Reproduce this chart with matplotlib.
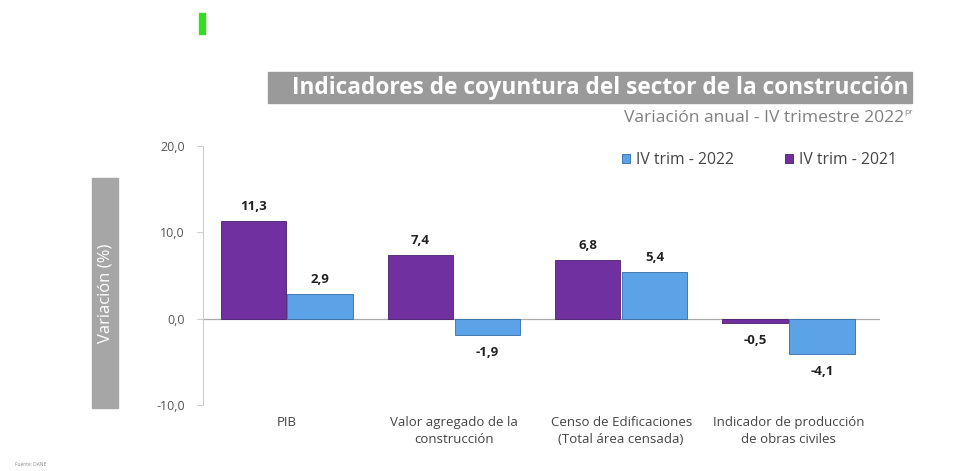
import matplotlib.pyplot as plt
from matplotlib.patches import Rectangle

plt.rcParams['font.family'] = ['Open Sans', 'DejaVu Sans']

categorias = ['PIB', 'Valor agregado de la\nconstrucción',
              'Censo de Edificaciones\n(Total área censada)',
              'Indicador de producción\nde obras civiles']
trim_2021 = [11.3, 7.4, 6.8, -0.5]
trim_2022 = [2.9, -1.9, 5.4, -4.1]
yticks = [-10, 0, 10, 20]

morado = '#7030A0'
azul = '#5BA3E6'

fig = plt.figure(figsize=(9.61, 4.71), dpi=100)
ax = fig.add_axes([0.2112, 0.140, 0.705, 0.550])

x = list(range(len(categorias)))
w = 0.39
b1 = ax.bar([i - 0.2 for i in x], trim_2021, w, color=morado, edgecolor='#4B1F6E', linewidth=0.6, label='IV trim - 2021')
b2 = ax.bar([i + 0.2 for i in x], trim_2022, w, color=azul, edgecolor='#2F6DA8', linewidth=0.6, label='IV trim - 2022')

def fmt(v):
    return f'{v:.1f}'.replace('.', ',')

for bars, vals in [(b1, trim_2021), (b2, trim_2022)]:
    for r, v in zip(bars, vals):
        cx = r.get_x() + r.get_width() / 2
        if v >= 0:
            ax.text(cx, v + 0.9, fmt(v), ha='center', va='bottom', fontsize=9.5, fontweight='bold', color='#222222')
        else:
            ax.text(cx, v - 1.3, fmt(v), ha='center', va='top', fontsize=9.5, fontweight='bold', color='#222222')

ax.set_ylim(-10, 20)
ax.set_xlim(-0.5, 3.55)
ax.set_yticks(yticks)
ax.set_yticklabels([fmt(t) for t in yticks], fontsize=9, color='#555555')
ax.set_xticks(x)
ax.set_xticklabels(categorias, fontsize=9.5, color='#444444', linespacing=1.35)
ax.tick_params(axis='x', length=0, pad=8)
ax.tick_params(axis='y', length=4, color='#cccccc', pad=9)
for s in ['top', 'right', 'bottom']:
    ax.spines[s].set_visible(False)
ax.spines['left'].set_color('#cccccc')
ax.axhline(0, color='#aaaaaa', linewidth=0.9, zorder=0)

leg = ax.legend(handles=[b2, b1], loc='upper right', bbox_to_anchor=(1.045, 1.03), ncol=2,
                frameon=False, fontsize=11.3, handlelength=0.5, handleheight=0.5,
                handletextpad=0.35, columnspacing=3.3)
for t in leg.get_texts():
    t.set_color('#444444')

# caja de título
fig.patches.append(Rectangle((268 / 961, 1 - 103 / 471), (912 - 268) / 961, 31 / 471,
                             transform=fig.transFigure, color='#9a9a9a', zorder=0))
fig.text(908 / 961, 1 - 88 / 471, 'Indicadores de coyuntura del sector de la construcción',
         ha='right', va='center', fontsize=16.3, fontweight='bold', color='white')
fig.text(904 / 961, 1 - 118 / 471, 'Variación anual - IV trimestre 2022',
         ha='right', va='center', fontsize=12.6, color='#808080')
fig.text(904 / 961, 1 - 113 / 471, 'pr', ha='left', va='center', fontsize=6, color='#808080')

# caja del eje y
fig.patches.append(Rectangle((92 / 961, 1 - 408 / 471), 26 / 961, 230 / 471,
                             transform=fig.transFigure, color='#a6a6a6', zorder=0))
fig.text(105 / 961, 1 - 293 / 471, 'Variación (%)', rotation=90, ha='center', va='center',
         fontsize=12, color='white')

# marca verde
fig.patches.append(Rectangle((199 / 961, 1 - 34 / 471), 6 / 961, 21 / 471,
                             transform=fig.transFigure, color='#33dd22', zorder=0))

fig.text(15 / 961, 1 - 465 / 471, 'Fuente: DANE', fontsize=3.5, color='#888888', va='center')

fig.savefig('out.png', dpi=100)
